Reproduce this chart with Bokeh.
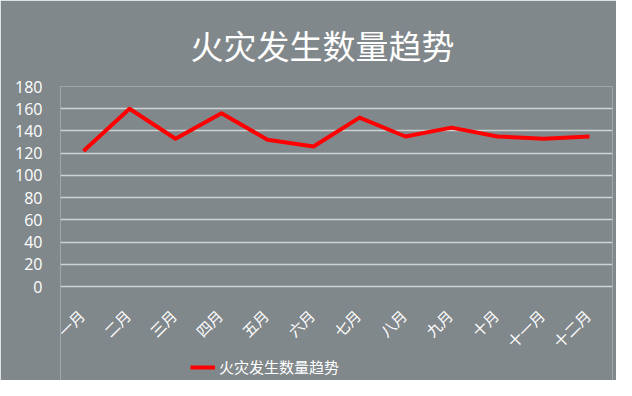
from math import pi
from bokeh.plotting import figure
from bokeh.models import Range1d, FixedTicker, Legend, LegendItem, ColumnDataSource
from bokeh.core.properties import value
from bokeh.embed import file_html
from bokeh.resources import INLINE

# ---- data ----
months = ["一月", "二月", "三月", "四月", "五月", "六月", "七月", "八月", "九月", "十月", "十一月", "十二月"]
fires = [122, 160, 133, 156, 132, 126, 152, 135, 143, 135, 133, 135]
y_ticks = [0, 20, 40, 60, 80, 100, 120, 140, 160, 180]
title_text = "火灾发生数量趋势"
series_name = "火灾发生数量趋势"

# ---- layout / style ----
BG = "#81888b"
CJK = "Noto Sans CJK SC"
W, H = 616, 380
TOP, LEFT, RIGHT = 86, 60, 4
PLOT_PX = 200                      # pixel height of the 0..180 band
Y_MAX = 180
frame_px = H - TOP
y_start = -Y_MAX * (frame_px - PLOT_PX) / PLOT_PX   # room below 0 for labels + legend

p = figure(x_range=months, y_range=Range1d(y_start, Y_MAX), width=W, height=H,
           output_backend="svg", toolbar_location=None, x_axis_location=None,
           background_fill_color=BG, border_fill_color=BG, outline_line_color=None,
           min_border_left=LEFT, min_border_right=RIGHT, min_border_top=TOP, min_border_bottom=0)

p.title.text = title_text
p.title.align = "left"
p.title.offset = 130
p.title.text_color = "white"
p.title.text_font = CJK
p.title.text_font_size = "33px"
p.title.text_font_style = "normal"
p.title.standoff = 36

src = ColumnDataSource(dict(m=months, v=fires, zero=[0] * len(months)))
r = p.line("m", "v", source=src, line_color="#ff0000", line_width=4, line_join="round")

# month labels, rotated 45°, hanging below the 0 line
p.text(x="m", y="zero", text="m", source=src, angle=pi / 4,
       text_align="right", text_baseline="middle", x_offset=-2, y_offset=26,
       text_color="white", text_font=value(CJK), text_font_size="15px")

p.yaxis.ticker = FixedTicker(ticks=y_ticks)
p.yaxis.axis_line_color = None
p.yaxis.major_tick_line_color = None
p.yaxis.minor_tick_line_color = None
p.yaxis.major_label_text_color = "white"
p.yaxis.major_label_text_font = "Open Sans"
p.yaxis.major_label_text_font_size = "16px"
p.yaxis.major_label_standoff = 12

p.xgrid.grid_line_color = None
p.ygrid.ticker = FixedTicker(ticks=y_ticks)
p.ygrid.grid_line_color = "#cfd2d3"
p.ygrid.grid_line_width = 1.5

legend = Legend(items=[LegendItem(label=series_name, renderers=[r])],
                location=(130, 3), orientation="horizontal",
                background_fill_alpha=0, border_line_color=None,
                label_text_color="white", label_text_font=CJK, label_text_font_size="15px",
                glyph_width=25, label_standoff=4, margin=0, padding=2)
p.add_layout(legend, "center")

open("out.html", "w").write(file_html(p, INLINE))
